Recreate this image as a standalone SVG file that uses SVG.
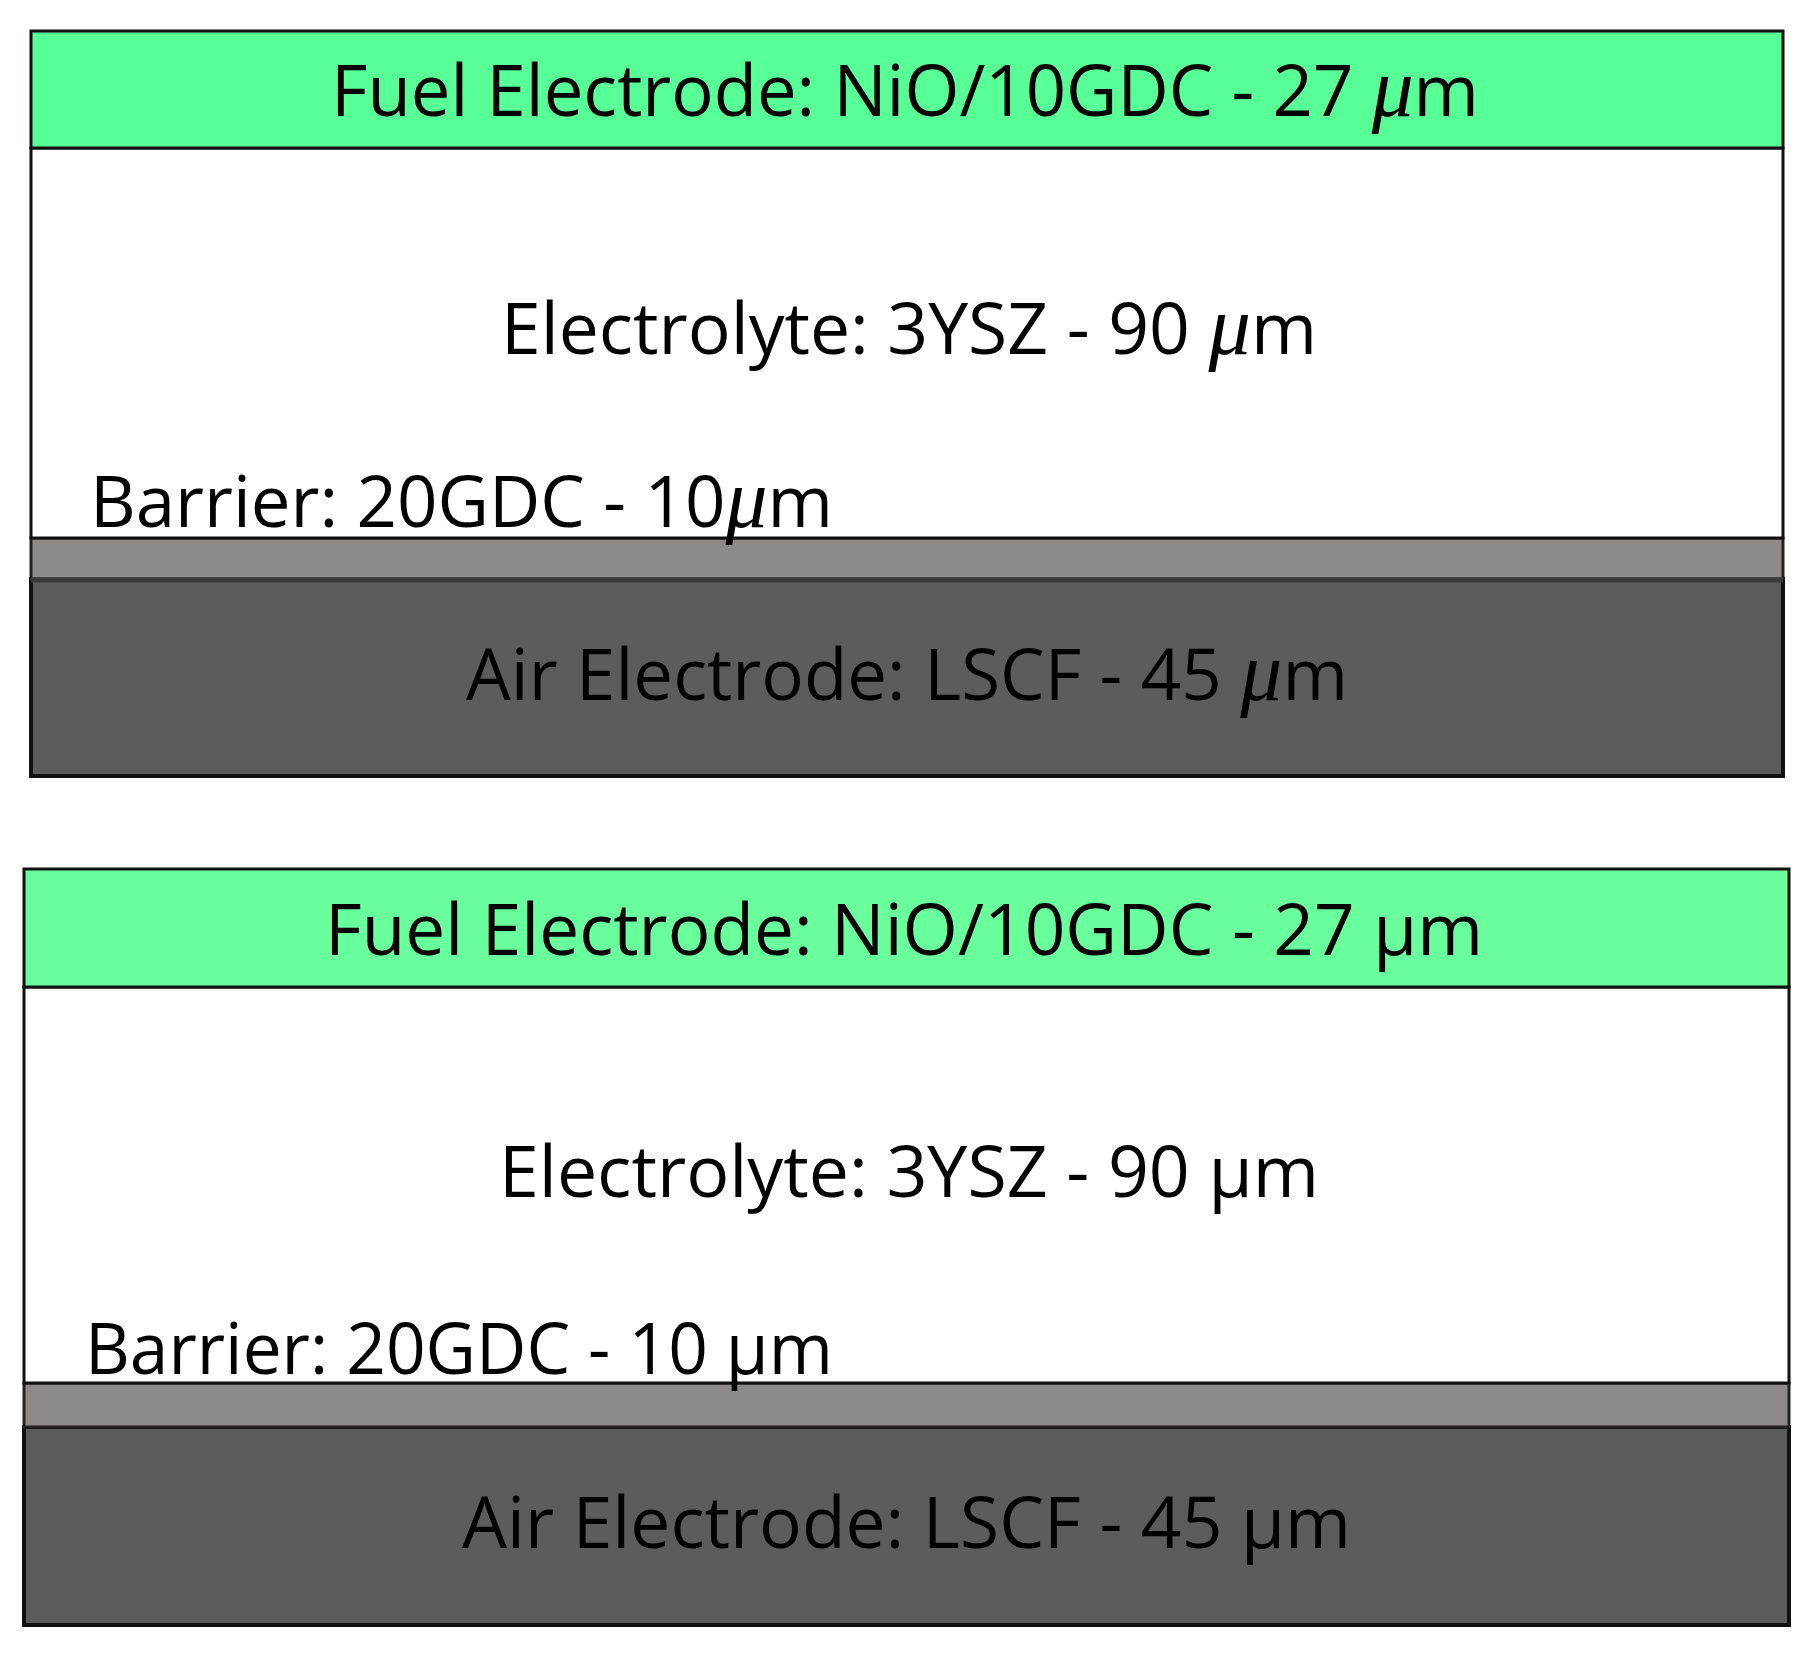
<svg xmlns="http://www.w3.org/2000/svg" width="1819" height="1662" viewBox="0 0 1819 1662">
<style>
.fuel{fill:#58ff96;stroke:#111;stroke-width:3}
.fuel2{fill:#68ff9c;stroke:#111;stroke-width:3}
.ely{fill:#fff;stroke:#111;stroke-width:3}
.bar{fill:#8f8a8a;stroke:#222;stroke-width:3}
.air{fill:#5c5c5c;stroke:#111;stroke-width:4}
.t{font-family:"Open Sans","Noto Sans",sans-serif;font-size:71px;fill:#000}
.mu{font-family:"Liberation Serif",serif;font-style:italic;font-size:84px}
</style>
<rect width="1819" height="1662" fill="#fff"/>
<g id="panel-a">
  <g id="a-air"><rect class="air" x="31" y="579" width="1752" height="197"/>
    <text class="t" x="466" y="700" textLength="882" lengthAdjust="spacingAndGlyphs">Air Electrode: LSCF - 45 <tspan class="mu">μ</tspan>m</text></g>
  <g id="a-barrier"><rect class="bar" x="31" y="538" width="1752" height="41"/>
    <line x1="31" y1="580" x2="1783" y2="580" stroke="#3a3a3a" stroke-width="5"/></g>
  <g id="a-electrolyte"><rect class="ely" x="31" y="148" width="1752" height="390"/>
    <text class="t" x="501" y="354" textLength="816" lengthAdjust="spacingAndGlyphs">Electrolyte: 3YSZ - 90 <tspan class="mu">μ</tspan>m</text>
    <text class="t" x="90" y="527" textLength="743" lengthAdjust="spacingAndGlyphs">Barrier: 20GDC - 10<tspan class="mu">μ</tspan>m</text></g>
  <g id="a-fuel"><rect class="fuel" x="31" y="31" width="1752" height="117"/>
    <text class="t" x="331" y="116" textLength="1148" lengthAdjust="spacingAndGlyphs">Fuel Electrode: NiO/10GDC - 27 <tspan class="mu">μ</tspan>m</text></g>
</g>
<g id="panel-b">
  <g id="b-air"><rect class="air" x="24" y="1427" width="1765" height="198"/>
    <text class="t" x="462" y="1548" textLength="889" lengthAdjust="spacingAndGlyphs">Air Electrode: LSCF - 45  μm</text></g>
  <g id="b-barrier"><rect class="bar" x="24" y="1383" width="1765" height="44"/></g>
  <g id="b-electrolyte"><rect class="ely" x="24" y="987" width="1765" height="396"/>
    <text class="t" x="499" y="1197" textLength="820" lengthAdjust="spacingAndGlyphs">Electrolyte: 3YSZ - 90  μm</text>
    <text class="t" x="85" y="1374" textLength="748" lengthAdjust="spacingAndGlyphs">Barrier: 20GDC - 10 μm</text></g>
  <g id="b-fuel"><rect class="fuel2" x="24" y="869" width="1765" height="118"/>
    <text class="t" x="325" y="955" textLength="1158" lengthAdjust="spacingAndGlyphs">Fuel Electrode: NiO/10GDC - 27  μm</text></g>
</g>
<g id="connectors"/>
</svg>
